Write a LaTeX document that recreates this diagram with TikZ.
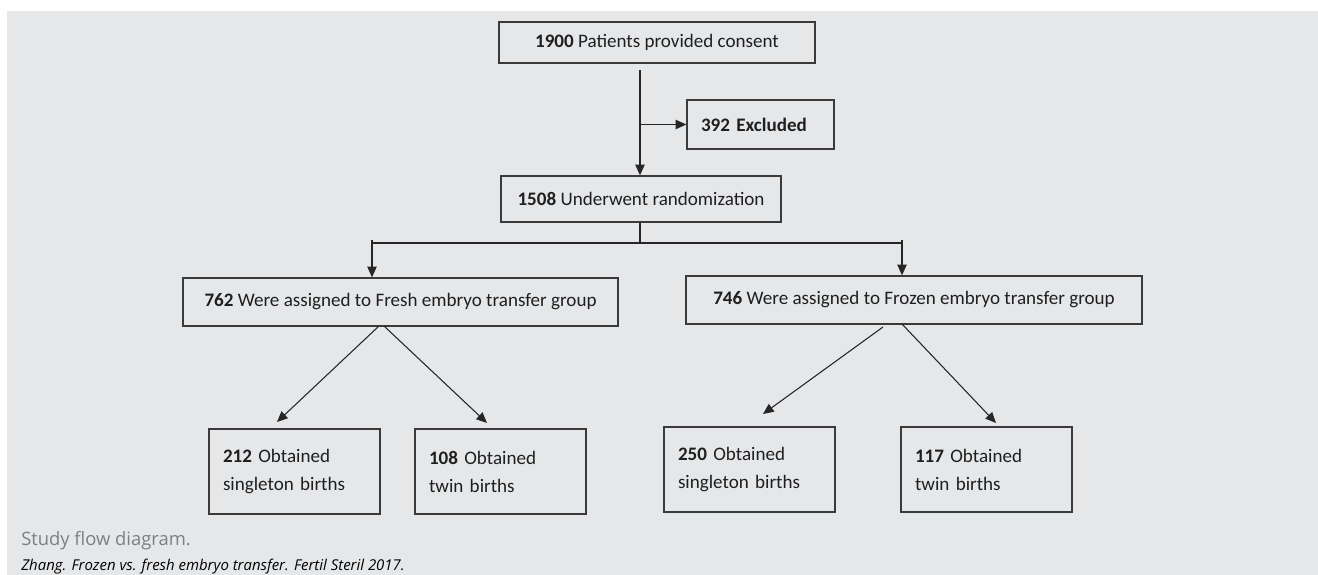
\documentclass[tikz,border=0pt]{standalone}
\usepackage{fontspec}
\setmainfont{Carlito}
\newfontfamily\capfont{Open Sans}
\usetikzlibrary{arrows.meta}
\definecolor{bggray}{HTML}{E6E7E9}
\definecolor{boxline}{HTML}{3A3A3A}
\definecolor{capgray}{HTML}{7E7F82}

\begin{document}
\begin{tikzpicture}[x=0.75pt,y=-0.75pt,
	box/.style 2 args={draw=boxline,line width=1pt,inner sep=0pt,text=black!88,
		minimum width=#1*0.75pt,minimum height=#2*0.75pt,
		font=\fontsize{14.3}{21}\selectfont},
	leftbox/.style={align=left,text width=143*0.75pt},
	arr/.style={draw=black!85,line width=0.8pt,-{Triangle[length=8pt,width=7pt]}},
	bar/.style={draw=black!85,line width=1.6pt}]

	\useasboundingbox (0,0) rectangle (1318,575);
	\fill[bggray] (7,11) rectangle (1318,575);

	\node[box={316}{41}] (consent) at (657,42.5) {\textbf{1900} Patients provided consent};
	\node[box={147}{49},align=left,text width=119*0.75pt] (excl) at (760.5,124.5) {\textbf{392 Excluded}};
	\node[box={280}{46}] (rand) at (641,199) {\textbf{1508} Underwent randomization};
	\node[box={435}{48}] (fresh) at (400.5,302) {\textbf{762} Were assigned to Fresh embryo transfer group};
	\node[box={456}{48}] (frozen) at (914,300) {\textbf{746} Were assigned to Frozen embryo transfer group};
	\node[box={171}{85},leftbox] (fsing) at (294.5,471.5) {\textbf{212} Obtained\\singleton births};
	\node[box={171}{85},leftbox] (ftwin) at (500.5,471.5) {\textbf{108} Obtained\\twin births};
	\node[box={171}{85},leftbox] (zsing) at (749.5,469.5) {\textbf{250} Obtained\\singleton births};
	\node[box={171}{85},leftbox] (ztwin) at (986.5,469.5) {\textbf{117} Obtained\\twin births};

	\coordinate (c1) at (640,70);
	\coordinate (barL) at (372,243);
	\coordinate (barR) at (902,243);
	\coordinate (barM) at (640,243);

	\draw[arr] (c1) -- (c1 |- rand.north);
	\draw[arr] (c1 |- excl.west) -- (excl.west);
	\draw[draw=black!85,line width=0.8pt] (rand.south -| barM) -- (barM);
	\draw[bar] (barL) -- (barR);
	\draw[arr] ([yshift=2.5pt]barL) -- (barL |- fresh.north);
	\draw[arr] ([yshift=2.5pt]barR) -- (barR |- frozen.north);

	\coordinate (fa) at (379,326);
	\coordinate (fb) at (384,326);
	\coordinate (za) at (883,327);
	\coordinate (zb) at (902,324);
	\draw[arr] (fa) -- (277,422);
	\draw[arr] (fb) -- (487,423);
	\draw[arr] (za) -- (763,414);
	\draw[arr] (zb) -- (996,423);

	\node[anchor=base west,inner sep=0pt,text=capgray,font=\capfont\fontsize{13.8}{16}\selectfont] (cap) at (21,545) {Study flow diagram.};
	\node[anchor=base west,inner sep=0pt,font=\capfont\itshape\fontsize{11.2}{13}\selectfont] (src) at (21,570) {Zhang. Frozen vs. fresh embryo transfer. Fertil Steril 2017.};

\end{tikzpicture}
\end{document}
